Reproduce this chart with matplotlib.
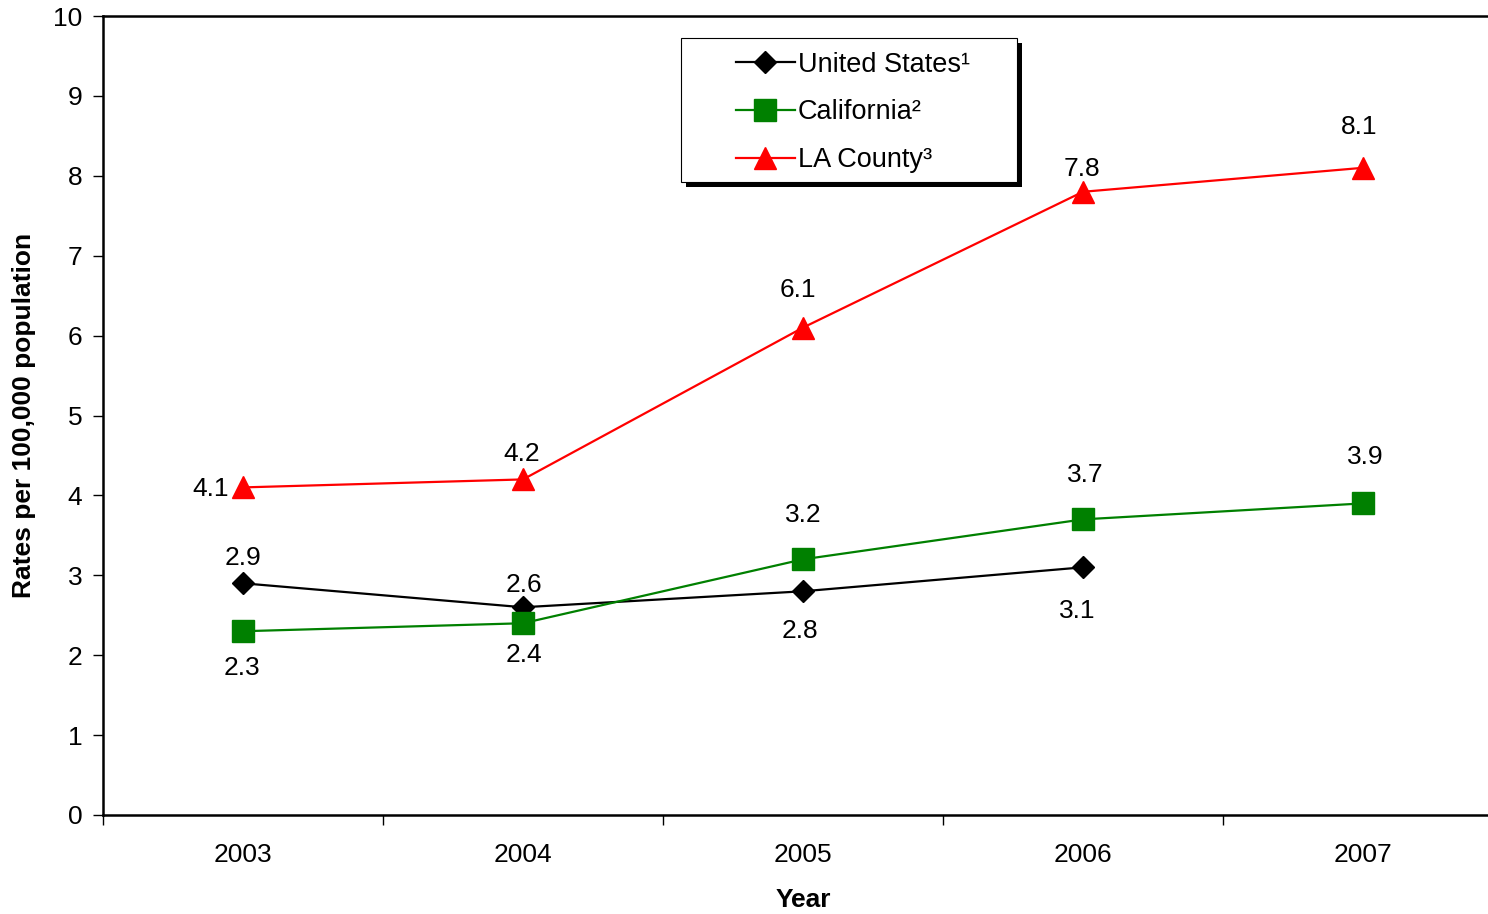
import numpy as np
import matplotlib.pyplot as plt
from matplotlib.patches import Rectangle

plt.rcParams['font.family'] = ['Liberation Sans', 'DejaVu Sans']

years = ['2003', '2004', '2005', '2006', '2007']
us = [2.9, 2.6, 2.8, 3.1, np.nan]
ca = [2.3, 2.4, 3.2, 3.7, 3.9]
la = [4.1, 4.2, 6.1, 7.8, 8.1]

# label offsets in pixels (dx, dy)
us_off = [(0, 25), (1, 22), (-3, -40), (-6, -44), None]
ca_off = [(-1, -37), (1, -32), (0, 44), (2, 44), (2, 46)]
la_off = [(-32, -2), (-1, 25), (-5, 38), (-1, 23), (-4, 41)]

fs = 19

fig = plt.figure(figsize=(14.88, 9.14), dpi=100)
ax = fig.add_axes([103/1488, 99/914, 1400/1488, 799/914])

x = np.arange(len(years))
ax.plot(x, us, color='black', lw=1.6, marker='D', ms=11.5, label='United States¹', clip_on=False)
ax.plot(x, ca, color='#008000', lw=1.6, marker='s', ms=16, label='California²', clip_on=False)
ax.plot(x, la, color='#ff0000', lw=1.6, marker='^', ms=16, label='LA County³', clip_on=False)

for vals, offs in [(us, us_off), (ca, ca_off), (la, la_off)]:
    for xi, v, o in zip(x, vals, offs):
        if o is None or np.isnan(v):
            continue
        ax.annotate(f'{v:.1f}', (xi, v), xytext=o, textcoords='offset pixels',
                    ha='center', va='center', fontsize=fs)

ax.set_xlim(-0.5, 4.5)
ax.set_ylim(0, 10)
ax.set_yticks(range(0, 11))
ax.set_xticks(x)
ax.set_xticklabels(years)
ax.set_xticks(np.arange(-0.5, 5, 1), minor=True)
ax.tick_params(axis='x', which='major', length=0, pad=20, labelsize=fs)
ax.tick_params(axis='x', which='minor', length=7, width=1, direction='out')
ax.tick_params(axis='y', length=7, width=1, pad=8, labelsize=fs)

for s in ['left', 'bottom', 'top']:
    ax.spines[s].set_linewidth(1.8)
ax.spines['right'].set_visible(False)

ax.set_xlabel('Year', fontsize=fs, fontweight='bold', labelpad=15)
ax.set_ylabel('Rates per 100,000 population', fontsize=fs, fontweight='bold', labelpad=12)

# legend box with black shadow
ax.add_patch(Rectangle((686/1488, 1 - 187/914), 336/1488, 144/914, transform=fig.transFigure,
                       facecolor='black', edgecolor='none', zorder=4, clip_on=False))
ax.add_patch(Rectangle((681/1488, 1 - 182/914), 336/1488, 144/914, transform=fig.transFigure,
                       facecolor='white', edgecolor='black', lw=0.8, zorder=4.5, clip_on=False))
leg = ax.legend(loc='upper left', bbox_to_anchor=(714/1488, 1 - 30/914), bbox_transform=fig.transFigure,
                frameon=False, fontsize=19.5, handlelength=2.2, handletextpad=0.1,
                labelspacing=0.8, borderpad=0.3)
leg.set_zorder(5)

fig.savefig('out.png', dpi=100)
